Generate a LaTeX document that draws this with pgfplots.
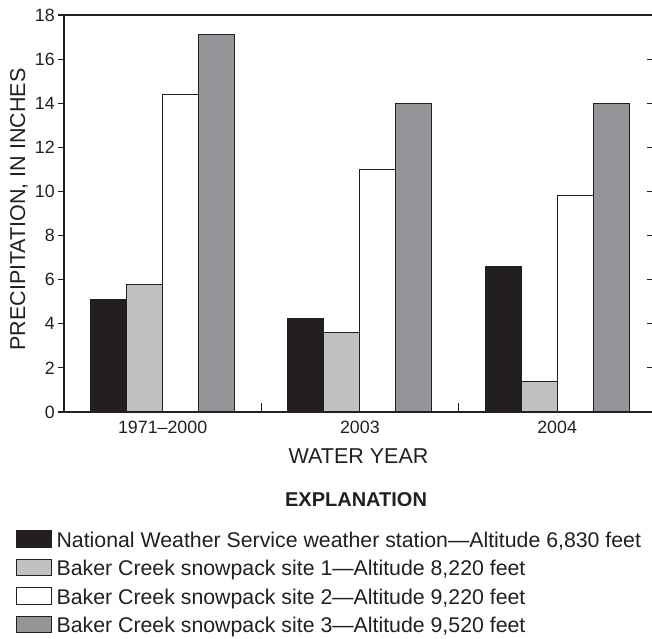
\documentclass[border=0pt]{standalone}
\usepackage{fontspec}
\setmainfont{Liberation Sans}
\usepackage{pgfplots}
\pgfplotsset{compat=1.18}

\definecolor{ink}{HTML}{231F20}
\definecolor{lightbar}{HTML}{C0C1C3}
\definecolor{darkbar}{HTML}{939598}

% values in inches: 1971-2000 average, 2003, 2004
\pgfplotstableread{
x  nws   site1  site2  site3
0  5.1   5.8    14.4   17.1
1  4.25  3.6    11.0   14.0
2  6.6   1.4    9.8    14.0
}\precip

\pgfplotsset{
  swatch/.style={legend image code/.code={%
      \draw[##1, line width=1.1pt] (0pt,0pt) rectangle (35pt,16.5pt);}},
  frame/.style={
    at={(0pt,0pt)}, anchor=south west,
    scale only axis, width=589pt, height=397pt,
    xmin=-0.5, xmax=2.486, ymin=0, ymax=18,
  },
}

\begin{document}
\begin{tikzpicture}
\useasboundingbox (-64pt,-226pt) rectangle (588pt,412pt);

\begin{axis}[
  frame, name=main, clip=false,
  ybar=0pt, bar width=36pt,
  axis line style={draw=ink, line width=1.1pt},
  tick align=outside, major tick length=6pt,
  ytick={0,2,...,18}, ytick pos=left,
  y tick style={draw=ink, line width=1.1pt},
  xtick={0,1,2}, xtick pos=bottom,
  xticklabels={1971\textendash2000,2003,2004},
  x tick style={draw=none},
  /pgf/number format/assume math mode=true,
  tick label style={font=\fontsize{17.8}{21}\selectfont, text=ink},
  yticklabel style={inner sep=0pt, anchor=east, xshift=-3pt},
  xticklabel style={inner sep=0pt, anchor=north, yshift=-3pt},
  xlabel={WATER YEAR},
  ylabel={PRECIPITATION, IN INCHES},
  every axis x label/.style={at={(axis description cs:0.5,0)}, anchor=north,
    inner sep=0pt, yshift=-36pt,
    font=\fontsize{21.5}{25}\selectfont, text=ink},
  every axis y label/.style={at={(axis description cs:-0.0764,0.51)},
    rotate=90, anchor=center, inner sep=0pt,
    font=\fontsize{21.5}{25}\selectfont, text=ink},
  legend style={
    at={(axis description cs:0,0)}, anchor=north west,
    xshift=-48pt, yshift=-118pt,
    draw=none, fill=none, inner sep=0pt, outer sep=0pt,
    font=\fontsize{21.3}{25}\selectfont, text=ink,
    row sep=10pt, column sep=4.5pt,
    nodes={inner sep=0pt, anchor=base west},
  },
  legend cell align=left,
]
\addplot[swatch, fill=ink, draw=ink, line width=1.1pt]
  table[x=x, y=nws] {\precip};
\addlegendentry{National Weather Service weather station\textemdash Altitude 6,830 feet}
\addplot[swatch, fill=lightbar, draw=ink, line width=1.1pt]
  table[x=x, y=site1] {\precip};
\addlegendentry{Baker Creek snowpack site 1\textemdash Altitude 8,220 feet}
\addplot[swatch, fill=white, draw=ink, line width=1.1pt]
  table[x=x, y=site2] {\precip};
\addlegendentry{Baker Creek snowpack site 2\textemdash Altitude 9,220 feet}
\addplot[swatch, fill=darkbar, draw=ink, line width=1.1pt]
  table[x=x, y=site3] {\precip};
\addlegendentry{Baker Creek snowpack site 3\textemdash Altitude 9,520 feet}

% section heading of the key, centred over the plot
\node[font=\bfseries\fontsize{20}{24}\selectfont, text=ink, inner sep=0pt]
  at (axis description cs:0.4958,-0.2217) {EXPLANATION};
\end{axis}

% separators between year groups
\begin{axis}[
  frame,
  axis line style={draw=none},
  tick align=inside, major tick length=9pt,
  xtick={0.5,1.5}, xticklabels={}, xtick pos=bottom,
  ytick=\empty,
  x tick style={draw=ink, line width=1.1pt},
]
\end{axis}

% tick marks along the right side
\begin{axis}[
  frame,
  axis line style={draw=none},
  tick align=inside, major tick length=6pt,
  xtick=\empty,
  ytick={0,2,...,18}, yticklabels={}, ytick pos=right,
  y tick style={draw=ink, line width=1.1pt},
]
\end{axis}
\end{tikzpicture}
\end{document}
